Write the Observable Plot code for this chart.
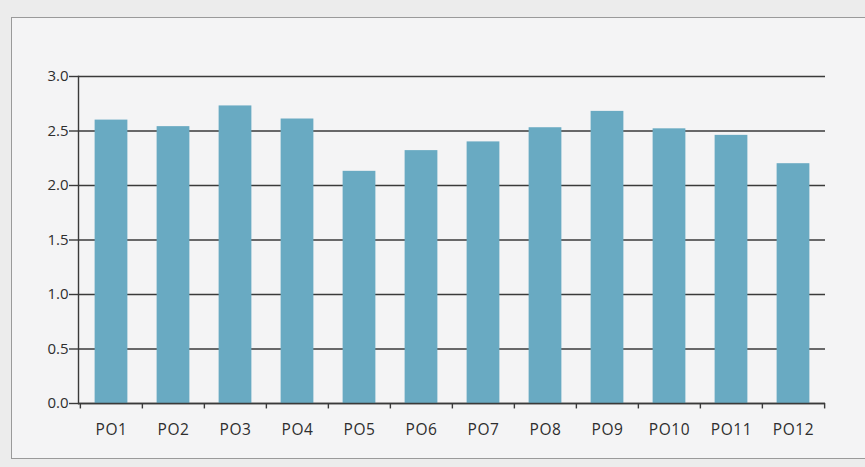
<!DOCTYPE html>
<html>
<head>
<meta charset="utf-8">
<script src="https://cdn.jsdelivr.net/npm/d3@7"></script>
<script src="https://cdn.jsdelivr.net/npm/@observablehq/plot@0.6"></script>
<style>
  html, body { margin: 0; padding: 0; background: #ebebeb; }
  #wrap { position: relative; width: 865px; height: 467px; overflow: hidden; background: #ececec; }
  #paper { position: absolute; left: 11px; top: 17px; width: 870px; height: 440px; background: #f4f4f5; border: 1.5px solid #9a9a9a; border-right: none; }
  #chart { position: absolute; left: 0; top: 0; }
  #chart svg g[aria-label="y-axis tick label"] text { font-size: 15px; fill: #2e2e2e; }
  #chart svg g[aria-label="x-axis tick label"] text { font-size: 15.5px; fill: #2e2e2e; letter-spacing: 0.6px; }
</style>
</head>
<body>
<div id="wrap"><div id="paper"></div><div id="chart"></div></div>
<script>
const categories = ["PO1","PO2","PO3","PO4","PO5","PO6","PO7","PO8","PO9","PO10","PO11","PO12"];
const values = [2.60, 2.54, 2.73, 2.61, 2.13, 2.32, 2.40, 2.53, 2.68, 2.52, 2.46, 2.20];
const yTicks = [0, 0.5, 1.0, 1.5, 2.0, 2.5, 3.0];

const data = categories.map((c, i) => ({cat: c, value: values[i]}));

const W = 865, H = 467, mL = 78, mR = 40, mT = 76, mB = 64;
const band = (W - mL - mR) / categories.length;
const inset = (band - 33) / 2;

const plot = Plot.plot({
  width: W, height: H,
  marginLeft: mL, marginRight: mR, marginTop: mT, marginBottom: mB,
  style: { background: "transparent", fontFamily: "'Open Sans', sans-serif", fontSize: "15px", color: "#2e2e2e" },
  x: { domain: categories, padding: 0, label: null },
  y: { domain: [0, 3], label: null },
  marks: [
    Plot.gridY(yTicks, { stroke: "#3a3a3a", strokeOpacity: 1, strokeWidth: 1.4 }),
    Plot.barY(data, { x: "cat", y: "value", fill: "#69aac2", insetLeft: inset, insetRight: inset }),
    Plot.ruleX(categories, { x: d => d, dx: -band / 2, y1: 0, y2: -0.05, stroke: "#3a3a3a", strokeWidth: 1.4 }),
    Plot.ruleX([categories[categories.length - 1]], { x: d => d, dx: band / 2, y1: 0, y2: -0.05, stroke: "#3a3a3a", strokeWidth: 1.4 }),
    Plot.ruleY([0], { stroke: "#3a3a3a", strokeWidth: 1.4 }),
    Plot.frame({ anchor: "left", stroke: "#3a3a3a", strokeWidth: 1.4 }),
    Plot.axisY({ ticks: yTicks, tickFormat: d3.format(".1f"), tickSize: 9, tickPadding: 1, stroke: "#3a3a3a", strokeWidth: 1.4, fill: "#2e2e2e" }),
    Plot.axisX({ tickSize: 0, tickPadding: 20, fill: "#2e2e2e" })
  ]
});
document.getElementById("chart").appendChild(plot);
</script>
</body>
</html>
